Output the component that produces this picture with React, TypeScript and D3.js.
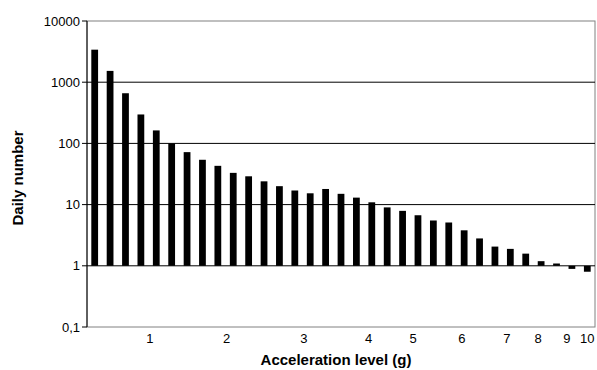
import React from "react";
import * as d3 from "d3";

const dailyNumbers: number[] = [
  3400, 1530, 660, 297, 163, 100, 72, 54, 43, 33, 29, 24, 20, 17, 15.3, 18, 15,
  13, 10.9, 9.0, 7.9, 6.7, 5.5, 5.1, 3.8, 2.8, 2.06, 1.89, 1.58, 1.19, 1.09, 0.89, 0.8,
];
const categories: number[] = dailyNumbers.map((_, i) => i);
const xTickLabels: string[] = ["1", "2", "3", "4", "5", "6", "7", "8", "9", "10"];
const xTickPositions: number[] = [4.09, 9.07, 14.09, 18.3, 21.18, 24.35, 27.28, 29.3, 31.18, 32.5];
const yTickValues: number[] = [0.1, 1, 10, 100, 1000, 10000];
const yTickLabels: string[] = ["0,1", "1", "10", "100", "1000", "10000"];

const W = 597;
const H = 370;
const M = { left: 87, right: 2, top: 21, bottom: 43 };

export default function App() {
  const x = d3.scaleLinear().domain([0, categories.length]).range([M.left, W - M.right]);
  const y = d3.scaleLog().domain([0.1, 10000]).range([H - M.bottom, M.top]);
  const bw = (x(1) - x(0)) * 0.44;
  const base = y(1);
  const font = "Liberation Sans, Arial, sans-serif";
  return (
    <svg width={W} height={H} style={{ position: "absolute", left: 0, top: 0, background: "#fff" }}>
      <rect x={x(0)} y={y(10000)} width={x(categories.length) - x(0)} height={y(0.1) - y(10000)} fill="none" stroke="#808080" strokeWidth={1} />
      {yTickValues.slice(1, 5).map((v) => (
        <line key={v} x1={x(0)} x2={x(categories.length)} y1={y(v)} y2={y(v)} stroke="#000" strokeWidth={1} />
      ))}
      {categories.map((c, i) => {
        const v = dailyNumbers[i];
        const yv = y(v);
        const cx = x(c + 0.5);
        return (
          <rect key={c} x={cx - bw / 2} y={Math.min(yv, base)} width={bw} height={Math.abs(base - yv)} fill="#000" />
        );
      })}
      <line x1={x(0)} x2={x(0)} y1={y(10000)} y2={y(0.1)} stroke="#000" strokeWidth={1} />
      {yTickValues.map((v, i) => (
        <g key={v}>
          <line x1={x(0) - 5} x2={x(0)} y1={y(v)} y2={y(v)} stroke="#000" strokeWidth={1} />
          <text x={x(0) - 7} y={y(v)} dy="0.35em" textAnchor="end" fontFamily={font} fontSize={13} fill="#000">
            {yTickLabels[i]}
          </text>
        </g>
      ))}
      {xTickLabels.map((t, i) => (
        <text key={t} x={x(xTickPositions[i])} y={y(0.1) + 16} textAnchor="middle" fontFamily={font} fontSize={13} fill="#000">
          {t}
        </text>
      ))}
      <text x={336} y={H - 5} textAnchor="middle" fontFamily={font} fontSize={15} fontWeight="bold" fill="#000">
        Acceleration level (g)
      </text>
      <text transform={`translate(23,178) rotate(-90)`} textAnchor="middle" fontFamily={font} fontSize={15} fontWeight="bold" fill="#000">
        Daily number
      </text>
    </svg>
  );
}
